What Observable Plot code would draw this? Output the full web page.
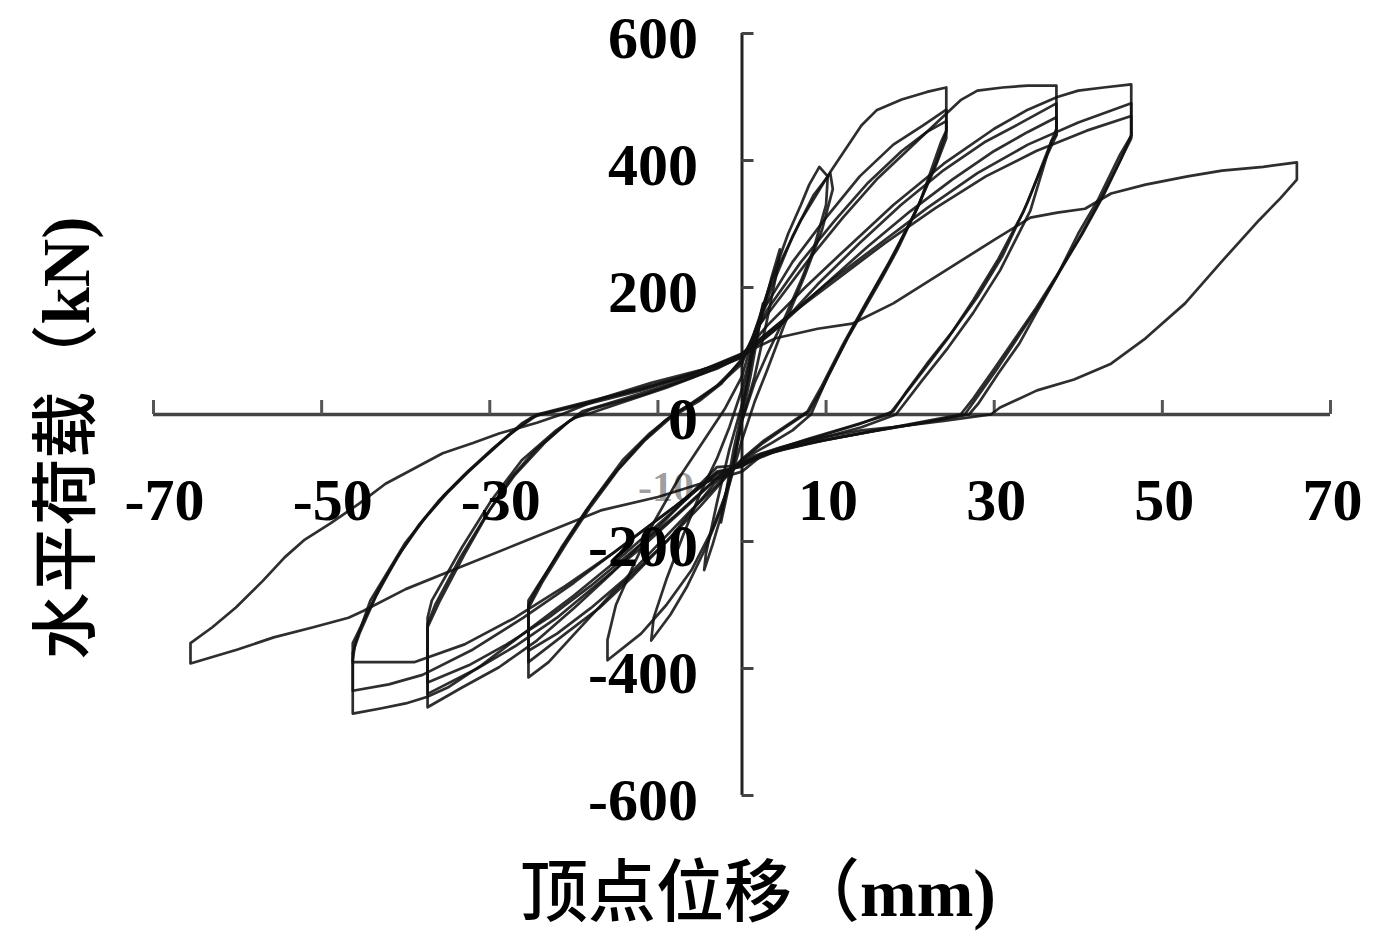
<!DOCTYPE html>
<html>
<head>
<meta charset="utf-8">
<script src="https://cdn.jsdelivr.net/npm/d3@7"></script>
<script src="https://cdn.jsdelivr.net/npm/@observablehq/plot@0.6"></script>
<style>
  html, body { margin: 0; padding: 0; background: #fff; }
  #page { width: 1378px; height: 942px; position: relative; overflow: hidden; }
  #row { display: flex; width: 1378px; }
  #ytitle { width: 120px; height: 850px; position: relative; flex: none; }
  #ytitle .t { position: absolute; left: 63px; top: 438px; transform: translate(-50%, -50%) rotate(-90deg); white-space: nowrap; font-size: 67px; line-height: 1; }
  #xtitle { width: 1378px; height: 92px; position: relative; }
  #xtitle .t { position: absolute; left: 758px; top: 0px; transform: translateX(-50%); white-space: nowrap; font-size: 68px; line-height: 1.1; }
  .cjk { font-family: "Noto Sans CJK SC", sans-serif; font-weight: 500; }
  .lat { font-family: "Liberation Serif", "Times New Roman", serif; font-weight: bold; }
</style>
</head>
<body>
<div id="page">
  <div id="row">
    <div id="ytitle"><div class="t"><span class="cjk">水平荷载（</span><span class="lat">kN)</span></div></div>
    <div id="chart"></div>
  </div>
  <div id="xtitle"><div class="t"><span class="cjk">顶点位移（</span><span class="lat">mm)</span></div></div>
</div>
<script>
// ---- tick labels ----
const xTicks = [-70, -50, -30, -10, 10, 30, 50, 70];
const yTicks = [-600, -400, -200, 0, 200, 400, 600];

// ---- hysteresis cycles: [displacement mm, load kN] ----
const cycle1 = [[0,0],[0.8,60],[1.6,120],[2.5,175],[2.2,150],[1.0,60],[0,-5],[-0.8,-60],[-1.6,-115],[-2.5,-170],[-2.2,-145],[-1.0,-55],[0,5]];
const cycle2 = [[0,5],[1.2,90],[2.5,165],[3.5,215],[4.5,260],[4.3,235],[3,150],[1.5,60],[0,-10],[-1.2,-85],[-2.5,-160],[-3.5,-205],[-4.5,-245],[-4.3,-220],[-3,-140],[-1.5,-55],[0,15]];
const cycle3 = [[0,15],[1,90],[2.5,170],[4,230],[5.5,285],[7,330],[8,362],[9.2,390],[10.2,375],[10,330],[8.5,260],[7,210],[5,150],[3,95],[1.5,50],[0,-10],[-1,-80],[-2.5,-150],[-4.5,-215],[-6.5,-270],[-8.5,-315],[-10.8,-356],[-10.5,-320],[-9,-260],[-7,-190],[-5,-125],[-3,-70],[-1.5,-20],[0,40]];
const cycle4 = [[0,40],[1.5,120],[3.5,200],[6,280],[8.5,345],[10.5,380],[10.8,355],[9.5,290],[7.5,220],[5,140],[3,70],[1.5,20],[0,-40],[-1.5,-110],[-3.5,-180],[-6,-245],[-9,-300],[-12,-345],[-16,-387],[-16,-355],[-15,-300],[-13,-240],[-10.5,-170],[-7.5,-100],[-4.5,-40],[-2,10],[0,60]];
const cycle5 = [[0,60],[1.5,130],[3.5,211],[7,306],[10.6,384],[14.2,455],[16,479],[19,496],[22,508],[24.3,515],[24.3,447],[23.7,430],[21.1,332],[18.5,260],[16.7,216],[12.6,121],[10.2,60],[8.2,0],[6,-25],[3.5,-45],[1.5,-60],[0,-75],[-3.3,-109],[-8.8,-198],[-15.5,-282],[-19.9,-345],[-23,-390],[-25.4,-414],[-25.4,-293],[-24.4,-272],[-20.8,-198],[-17.7,-135],[-14.2,-72],[-11,-30],[-8.2,0],[-5,25],[-2.5,50],[0,80]];
const cycle6 = [[0,80],[2.5,164],[6,240],[10,310],[14,375],[18,425],[21.5,455],[24.3,480],[24.3,445],[23.2,400],[21,330],[18,250],[15,180],[12.5,120],[9.5,40],[8,5],[5,-22],[2.5,-45],[0,-72],[-2,-100],[-5,-145],[-9,-200],[-13,-255],[-17,-305],[-21,-345],[-25.4,-390],[-25.4,-300],[-24.2,-270],[-21.5,-210],[-18.5,-150],[-15,-90],[-12,-45],[-9,-8],[-6,18],[-3,45],[0,85]];
const cycle7 = [[0,85],[3,165],[7,240],[11,305],[15,365],[19,415],[22,445],[24.3,462],[24.3,435],[23,390],[20.5,315],[17.5,240],[14.5,170],[12,110],[9.5,45],[7.8,5],[5,-20],[2.5,-42],[0,-70],[-2.5,-105],[-6,-150],[-10,-205],[-14,-260],[-18,-305],[-22,-345],[-25.4,-372],[-25.4,-305],[-23.8,-265],[-21,-205],[-18,-145],[-14.8,-88],[-11.5,-40],[-8.5,-5],[-5,22],[-2.5,48],[0,88]];
const cycle8 = [[0,88],[2,140],[4.3,180],[8,245],[12,310],[16,370],[20,420],[24,470],[26,495],[28,510],[31,515],[34,518],[37.4,518],[37.4,440],[36.8,431],[34.3,321],[30.7,227],[27.5,160],[24.5,105],[21.5,55],[19.3,17],[18.3,0],[14.2,-20],[10,-35],[5,-52],[2.3,-62],[0,-80],[-3,-83],[-8.8,-162],[-15.5,-250],[-19.9,-304],[-24.4,-356],[-28.9,-398],[-33.3,-430],[-37.4,-461],[-37.4,-320],[-36.9,-293],[-33.3,-209],[-29.8,-135],[-26.2,-72],[-22.1,-25],[-19.9,-5],[-18.5,0],[-14,20],[-9,42],[-4.5,65],[0,90]];
const cycle9 = [[0,90],[4.3,137],[9,205],[14,270],[18.9,330],[24,385],[29,430],[33,458],[37.4,490],[37.4,450],[36.5,420],[34,335],[31,250],[28,185],[25,130],[22,80],[19.5,35],[18,5],[14,-15],[9,-35],[4.5,-52],[1.5,-65],[0,-78],[-2.5,-95],[-7,-150],[-12,-210],[-17,-265],[-22,-320],[-27,-365],[-31.5,-400],[-37.4,-440],[-37.4,-330],[-36.5,-300],[-33.5,-225],[-30.5,-160],[-27.5,-100],[-24.5,-55],[-21,-15],[-19,5],[-14,25],[-8,50],[-3,72],[0,92]];
const cycle10 = [[0,92],[4.5,140],[9.5,200],[15,265],[20,320],[25,370],[30,415],[34,445],[37.4,468],[37.4,440],[36,400],[33.5,320],[30.5,245],[27.5,180],[24.5,120],[21.5,68],[19,25],[17.5,0],[13,-18],[8,-38],[4,-55],[0,-76],[-3,-100],[-8,-160],[-13,-215],[-18,-270],[-23,-320],[-28,-362],[-32.5,-395],[-37.4,-422],[-37.4,-335],[-36,-295],[-33,-220],[-30,-150],[-27,-95],[-23.5,-45],[-20.5,-10],[-18,8],[-12,30],[-6,58],[0,94]];
const cycle11 = [[0,94],[3,140],[7.5,200],[12.3,260],[18,330],[24,395],[30,450],[34,480],[37.5,500],[40,510],[43,515],[46.3,520],[46.3,439],[45,410],[42.3,337],[40,285],[37.4,216],[35,160],[33,112],[30.5,65],[28.1,17],[27,0],[22,-12],[16,-25],[10,-40],[5,-55],[2,-66],[0,-82],[-3,-90],[-8,-150],[-14,-220],[-20,-285],[-26,-345],[-31,-395],[-35,-430],[-37.5,-445],[-40,-455],[-43,-463],[-46.3,-471],[-46.3,-387],[-46,-360],[-44.2,-293],[-42,-245],[-40.1,-203],[-37.5,-160],[-35.1,-124],[-32.5,-90],[-30.2,-61],[-28,-35],[-26.2,-14],[-24.4,0],[-19,18],[-13,38],[-7,60],[-3,78],[0,95]];
const cycle12 = [[0,95],[5,150],[10,205],[16,265],[22,325],[28,380],[34,425],[40,460],[46.3,490],[46.3,440],[45,400],[43,345],[40.5,285],[38,230],[35.5,175],[33,125],[30.5,75],[28,28],[26.5,0],[21,-14],[15,-28],[9,-42],[4.5,-56],[1.5,-68],[0,-80],[-3,-92],[-8,-145],[-14,-205],[-20,-265],[-26,-320],[-32,-370],[-38,-410],[-42,-425],[-46.3,-435],[-46.3,-375],[-45.5,-345],[-43.5,-285],[-41,-225],[-38.5,-175],[-36,-135],[-33,-95],[-30,-60],[-27.5,-30],[-25,-5],[-24,0],[-18,20],[-12,40],[-6,63],[0,96]];
const cycle13 = [[0,96],[5,150],[11,210],[17,270],[23,325],[29,375],[35,415],[41,447],[46.3,470],[46.3,435],[44.8,395],[42.5,335],[40,275],[37.5,220],[35,168],[32.5,120],[30,72],[27.5,25],[26,0],[20,-15],[14,-30],[8,-45],[4,-58],[0,-80],[-3,-95],[-9,-155],[-15,-215],[-21,-270],[-27,-320],[-33,-362],[-39,-390],[-46.3,-390],[-46.3,-360],[-45,-325],[-43,-270],[-40.5,-215],[-38,-168],[-35.5,-128],[-32.5,-88],[-29.5,-52],[-27,-25],[-24.5,-2],[-18,18],[-12,38],[-6,62],[0,95]];
const cycle14 = [[0,95],[4,120],[9,135],[13.1,143],[18,175],[24,225],[30,275],[34.3,310],[37.5,318],[40.8,324],[43.9,348],[48,362],[53,375],[57.1,384],[62,390],[66,397],[66,370],[64,340],[61.5,306],[57,240],[52.7,175],[48,120],[43.9,80],[39.5,55],[35.1,38],[30.7,11],[29.6,0],[24,-10],[18,-20],[14.2,-25],[8,-40],[2.3,-65],[0,-90],[-4,-105],[-10,-130],[-16.8,-151],[-25,-195],[-34.6,-246],[-40,-275],[-45,-309],[-46.8,-320],[-51,-335],[-55.7,-351],[-60,-370],[-65.6,-392],[-65.6,-360],[-63,-335],[-60.2,-304],[-57,-262],[-54.4,-225],[-52,-197],[-49,-172],[-45.5,-140],[-42.4,-109],[-39,-85],[-35.6,-61],[-32,-45],[-28.9,-30],[-24.4,-13],[-21.5,0],[-16.8,25],[-10.8,50],[-4.9,70],[0,90]];

const cycles = [cycle1, cycle2, cycle3, cycle4, cycle5, cycle6, cycle7, cycle8, cycle9, cycle10, cycle11, cycle12, cycle13, cycle14];
const rows = cycles.flatMap((pts, i) => pts.map(([x, y]) => ({cycle: i, x, y})));

// ---- layout ----
const W = 1258, H = 850, mL = 33, mR = 48, mT = 33, mB = 55;
const xExt = d3.extent(xTicks), yExt = d3.extent(yTicks);
const pxPerKN = (H - mT - mB) / (yExt[1] - yExt[0]);
const pxPerMM = (W - mL - mR) / (xExt[1] - xExt[0]);
const xTickLen = 14 / pxPerKN;   // upward tick marks on the x axis
const yTickLen = 12 / pxPerMM;   // rightward tick marks on the y axis

const font = "'Liberation Serif', 'Times New Roman', serif";
const negX = xTicks.filter(d => d < 0 && d !== -10);
const posX = xTicks.filter(d => d > 0);

const chart = Plot.plot({
  width: W, height: H,
  marginLeft: mL, marginRight: mR, marginTop: mT, marginBottom: mB,
  x: {domain: xExt, axis: null},
  y: {domain: yExt, axis: null},
  style: {background: "white", overflow: "visible"},
  marks: [
    Plot.ruleY([0], {x1: xExt[0], x2: xExt[1], stroke: "#444", strokeWidth: 3.5}),
    Plot.ruleX(xTicks, {x: d => d, y1: 0, y2: xTickLen, stroke: "#555", strokeWidth: 3}),
    Plot.ruleX([0], {y1: yExt[0], y2: yExt[1], stroke: "#222", strokeWidth: 3}),
    Plot.ruleY(yTicks, {y: d => d, x1: 0, x2: yTickLen, stroke: "#444", strokeWidth: 3}),
    Plot.line(rows, {x: "x", y: "y", z: "cycle", stroke: "#111", strokeWidth: 2.7, strokeOpacity: 0.88, strokeLinejoin: "round"}),
    Plot.text(negX, {x: d => d, y: 0, text: d => String(d), dy: 86, dx: 11, fontSize: 60, fontWeight: "bold", fontFamily: font, fill: "black"}),
    Plot.text([-10], {x: d => d, y: 0, text: d => String(d), dy: 73, dx: 8, fontSize: 42, fontWeight: "bold", fontFamily: font, fill: "black", fillOpacity: 0.4}),
    Plot.text(posX, {x: d => d, y: 0, text: d => String(d), dy: 86, dx: 2, fontSize: 60, fontWeight: "bold", fontFamily: font, fill: "black"}),
    Plot.text(yTicks, {x: 0, y: d => d, text: d => String(d), textAnchor: "end", dx: -44, dy: 5, fontSize: 60, fontWeight: "bold", fontFamily: font, fill: "black"})
  ]
});
document.getElementById("chart").appendChild(chart);
</script>
</body>
</html>
